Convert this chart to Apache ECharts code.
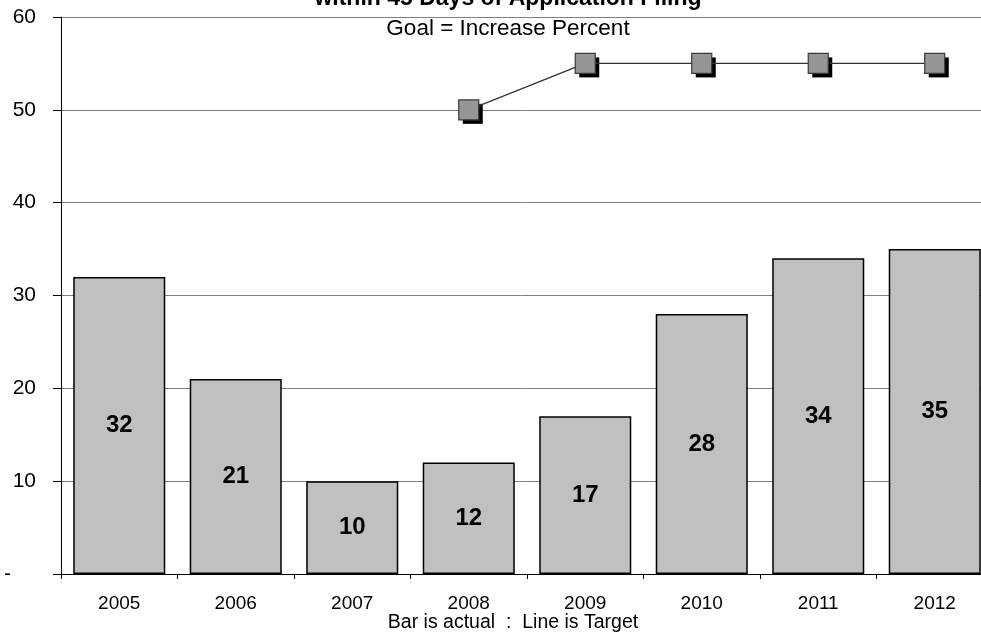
<!DOCTYPE html>
<html><head><meta charset="utf-8">
<script src="https://cdn.jsdelivr.net/npm/echarts@6/dist/echarts.min.js"></script>
<style>html,body{margin:0;padding:0;background:#fff}#c{width:981px;height:633px;overflow:hidden}</style>
</head><body><div id="c"></div>
<script>
const categories = ['2005','2006','2007','2008','2009','2010','2011','2012'];
const actual = [32, 21, 10, 12, 17, 28, 34, 35];
const target = [null, null, null, 50, 55, 55, 55, 55];
const yTicks = [0, 10, 20, 30, 40, 50, 60];

const chart = echarts.init(document.getElementById('c'), null, {renderer: 'canvas'});
chart.setOption({
  animation: false,
  backgroundColor: '#fff',
  textStyle: {fontFamily: 'Liberation Sans, Arial, sans-serif'},
  title: [
    {text: 'within 45 Days of Application Filing', left: 503, top: -18, textAlign: 'center',
     textStyle: {fontSize: 23, fontWeight: 'bold', color: '#000', fontFamily: 'Liberation Sans'}},
    {text: 'Goal = Increase Percent', left: 503, top: 12, textAlign: 'center',
     textStyle: {fontSize: 22.5, fontWeight: 'normal', color: '#000', fontFamily: 'Liberation Sans'}},
    {text: 'Bar is actual  :  Line is Target', left: 508, top: 608, textAlign: 'center',
     textStyle: {fontSize: 19.5, fontWeight: 'normal', color: '#000', fontFamily: 'Liberation Sans'}}
  ],
  grid: {left: 61, top: 17, width: 932, height: 557, containLabel: false, outerBoundsMode: 'none'},
  xAxis: {
    type: 'category', data: categories,
    axisLine: {lineStyle: {color: '#000', width: 1}},
    axisTick: {show: true, length: 5, inside: false, alignWithLabel: false, lineStyle: {color: '#000'}},
    axisLabel: {fontSize: 19, color: '#000', margin: 20, fontFamily: 'Liberation Sans'}
  },
  yAxis: {
    type: 'value', min: yTicks[0], max: yTicks[yTicks.length - 1], interval: 10,
    axisLine: {show: true, lineStyle: {color: '#000', width: 1}},
    axisTick: {show: true, length: 8, lineStyle: {color: '#000'}},
    splitLine: {show: true, lineStyle: {color: '#808080', width: 1}},
    axisLabel: {fontSize: 21, color: '#000', margin: 25, fontFamily: 'Liberation Sans',
      formatter: v => v === 0 ? '{z|-}' : String(v),
      rich: {z: {fontSize: 21, padding: [0, 25, 0, 0], fontFamily: 'Liberation Sans'}}}
  },
  series: [
    {type: 'bar', data: actual, barCategoryGap: '21%',
     itemStyle: {color: '#c0c0c0', borderColor: '#000', borderWidth: 1.5},
     label: {show: true, position: 'inside', fontSize: 24, fontWeight: 'bold', color: '#000', fontFamily: 'Liberation Sans'}},
    {type: 'line', data: target, symbol: 'rect', symbolSize: 20, symbolOffset: [4, 4],
     showSymbol: true, lineStyle: {width: 0, opacity: 0},
     itemStyle: {color: '#000', borderWidth: 0}, silent: true, z: 4},
    {type: 'line', data: target, symbol: 'rect', symbolSize: 20, connectNulls: false,
     lineStyle: {color: '#333', width: 1.4},
     itemStyle: {color: '#969696', borderColor: '#3a3a3a', borderWidth: 1.2},
     z: 5}
  ]
});
</script></body></html>
